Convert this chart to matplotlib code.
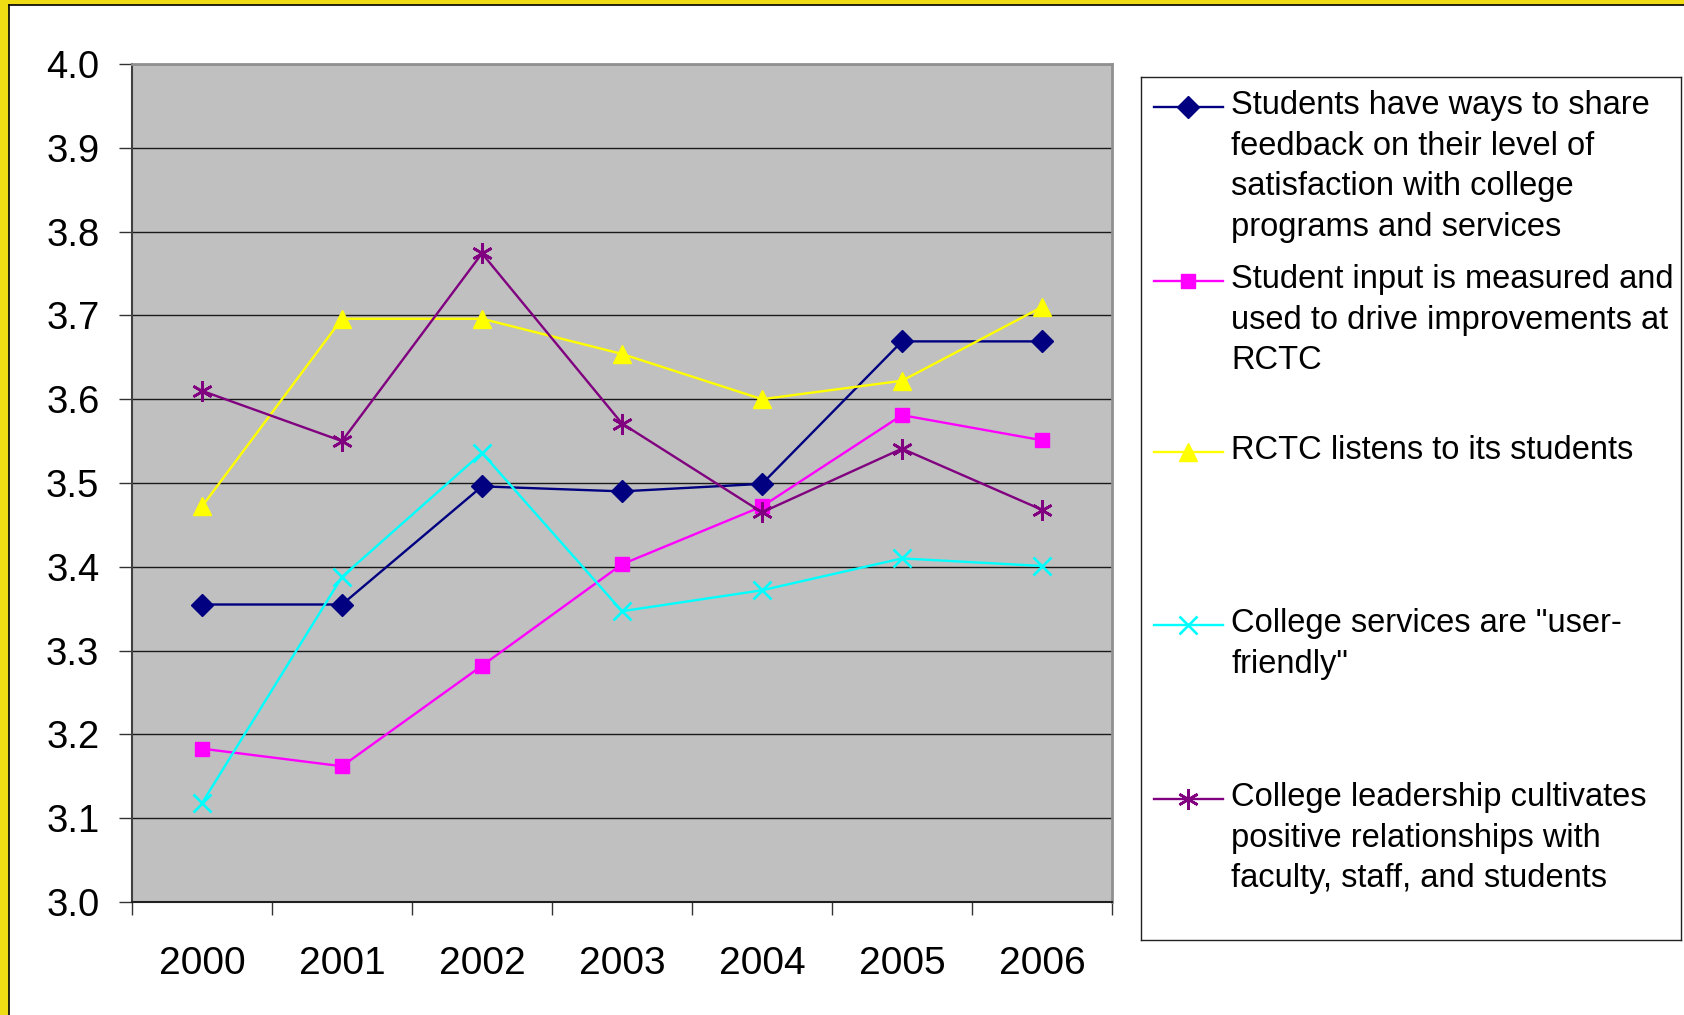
import matplotlib.pyplot as plt
from matplotlib.patches import Rectangle
from matplotlib.lines import Line2D

plt.rcParams['font.family'] = ['Liberation Sans', 'DejaVu Sans']

# survey results by year
years = ["2000", "2001", "2002", "2003", "2004", "2005", "2006"]

share_feedback = [3.355, 3.355, 3.496, 3.490, 3.499, 3.669, 3.669]
input_measured = [3.183, 3.162, 3.282, 3.403, 3.472, 3.581, 3.551]
listens = [3.472, 3.696, 3.696, 3.654, 3.600, 3.622, 3.710]
user_friendly = [3.118, 3.388, 3.536, 3.347, 3.372, 3.410, 3.401]
leadership = [3.610, 3.550, 3.774, 3.571, 3.465, 3.541, 3.468]

labels = [
    "Students have ways to share\nfeedback on their level of\nsatisfaction with college\nprograms and services",
    "Student input is measured and\nused to drive improvements at\nRCTC",
    "RCTC listens to its students",
    "College services are \"user-\nfriendly\"",
    "College leadership cultivates\npositive relationships with\nfaculty, staff, and students",
]
series = [share_feedback, input_measured, listens, user_friendly, leadership]
colors = ["#000080", "#FF00FF", "#FFFF00", "#00FFFF", "#800080"]
markers = ["D", "s", "^", "x", (6, 2, 0)]
msizes = [11, 10.5, 13, 12.5, 15]

W, H = 1684, 1015
fig = plt.figure(figsize=(W / 100, H / 100), dpi=100)

# yellow frame along the top and left edges
fig.patches.append(Rectangle((0, 0), 9 / W, 1, transform=fig.transFigure,
                             facecolor="#F0DC14", edgecolor="none"))
fig.patches.append(Rectangle((0, 1 - 5 / H), 1, 5 / H, transform=fig.transFigure,
                             facecolor="#F0DC14", edgecolor="none"))
fig.lines.append(Line2D([8.5 / W, 8.5 / W], [0, 1 - 4.5 / H], transform=fig.transFigure,
                        color="black", lw=1.2))
fig.lines.append(Line2D([8.5 / W, 1], [1 - 4.5 / H, 1 - 4.5 / H], transform=fig.transFigure,
                        color="black", lw=1.2))

ax = fig.add_axes([132 / W, 1 - 902 / H, (1112 - 132) / W, (902 - 64) / H])
ax.set_facecolor("#C0C0C0")


def edge_width(m):
    return 1.9 if m in ("x", (6, 2, 0)) else 1


x = list(range(len(years)))
for vals, c, m, ms in zip(series, colors, markers, msizes):
    ax.plot(x, vals, color=c, lw=1.7, marker=m, markersize=ms,
            markeredgewidth=edge_width(m),
            markerfacecolor=c, markeredgecolor=c, zorder=3)

ax.set_xlim(-0.5, 6.5)
ax.set_ylim(3.0, 4.0)
ax.set_yticks([3.0 + 0.1 * i for i in range(11)])
ax.set_yticklabels([f"{3.0 + 0.1 * i:.1f}" for i in range(11)], fontsize=27.5)
ax.yaxis.grid(True, color="#1a1a1a", lw=1.0)
ax.set_axisbelow(True)

ax.set_xticks(x)
ax.set_xticklabels(years, fontsize=28)
ax.set_xticks([i - 0.5 for i in range(len(years) + 1)], minor=True)
ax.tick_params(axis="x", which="major", length=0, pad=32)
ax.tick_params(axis="x", which="minor", length=9.5, width=1, color="#333333", direction="out")
ax.tick_params(axis="y", length=9.5, width=1, color="#333333", direction="out", pad=14)

for side in ("top", "right"):
    ax.spines[side].set_color("#909090")
    ax.spines[side].set_linewidth(2)
ax.spines["left"].set_color("#404040")
ax.spines["left"].set_linewidth(1.5)
ax.spines["bottom"].set_color("#202020")
ax.spines["bottom"].set_linewidth(1.5)

# legend box drawn by hand so the entries sit in evenly spaced slots
lx0, ly0, lx1, ly1 = 1141, 77, 1681, 940
lax = fig.add_axes([lx0 / W, 1 - ly1 / H, (lx1 - lx0) / W, (ly1 - ly0) / H])
lax.set_xlim(0, lx1 - lx0)
lax.set_ylim(ly1 - ly0, 0)
lax.set_xticks([])
lax.set_yticks([])
for s in lax.spines.values():
    s.set_color("#222222")
    s.set_linewidth(1.0)

slot_y = [30, 204, 375, 548, 722]
for yy, lab, c, m, ms in zip(slot_y, labels, colors, markers, msizes):
    lax.plot([13, 82], [yy, yy], color=c, lw=1.7)
    lax.plot([47], [yy], color=c, marker=m, markersize=ms,
             markeredgewidth=edge_width(m),
             markerfacecolor=c, markeredgecolor=c)
    lax.text(90, yy - 17, lab, fontsize=23.5, va="top", ha="left", linespacing=1.4)

fig.savefig("out.png", dpi=100)
